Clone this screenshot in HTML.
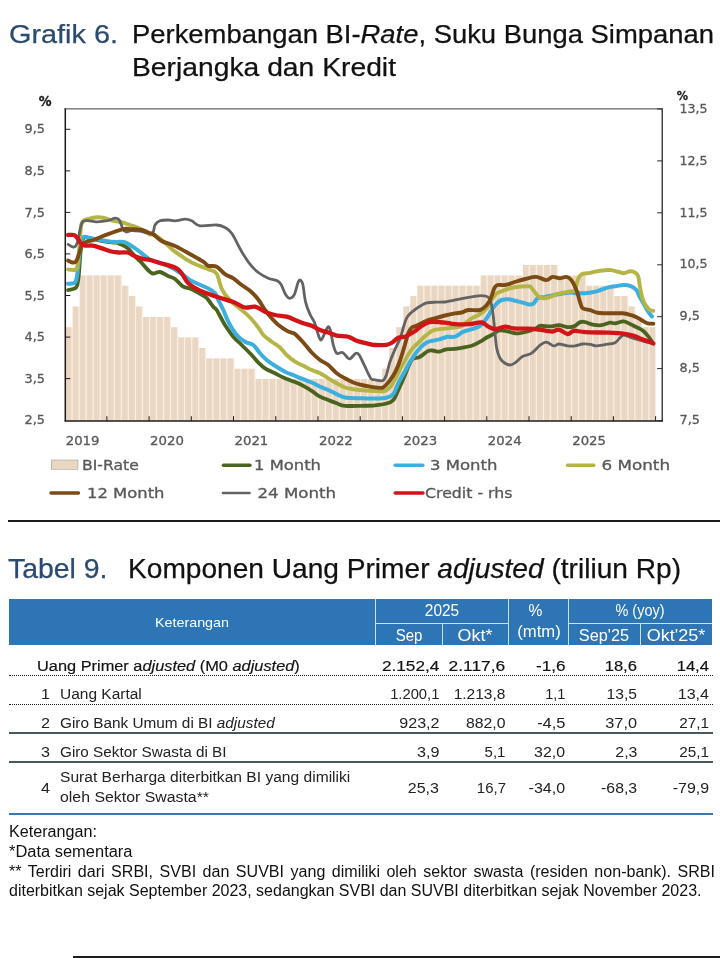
<!DOCTYPE html>
<html lang="id"><head><meta charset="utf-8"><title>Grafik 6 / Tabel 9</title>
<style>
html,body{margin:0;padding:0;background:#fff}
#page{position:relative;width:720px;height:958px;overflow:hidden;background:#fff;font-family:"Liberation Sans",sans-serif}
.chart{position:absolute;left:0;top:0}
.t{position:absolute;white-space:nowrap;transform-origin:0 0}
.t i{font-style:italic}
.b{-webkit-text-stroke:0.18px currentColor}
.h{-webkit-text-stroke:0.25px currentColor}
.hb,.vl,.hl,.dot,.sol,.bl,.rule{position:absolute}
.vl{width:1px;background:#cfe0f2}
.hl{height:1px;background:#cfe0f2}
.dot{left:8.5px;width:704px;height:0;border-top:1.5px dotted #1a1a1a}
.sol{left:8.5px;width:704px;height:1.5px;background:#4a5660}
.bl{left:8.5px;width:704px;height:1.6px;background:#3a78b0}
.rule{background:#1c1c1c}
</style></head><body>
<div id="page">
<svg class="chart" width="720" height="520" viewBox="0 0 720 520">
<path d="M65.70,420.6V327.2h7.035V420.6zM72.73,420.6V306.5h7.035V420.6zM79.77,420.6V275.4h7.035V420.6zM86.81,420.6V275.4h7.035V420.6zM93.84,420.6V275.4h7.035V420.6zM100.88,420.6V275.4h7.035V420.6zM107.91,420.6V275.4h7.035V420.6zM114.95,420.6V275.4h7.035V420.6zM121.98,420.6V285.7h7.035V420.6zM129.01,420.6V296.1h7.035V420.6zM136.05,420.6V306.5h7.035V420.6zM143.09,420.6V316.9h7.035V420.6zM150.12,420.6V316.9h7.035V420.6zM157.16,420.6V316.9h7.035V420.6zM164.19,420.6V316.9h7.035V420.6zM171.23,420.6V327.2h7.035V420.6zM178.26,420.6V337.6h7.035V420.6zM185.30,420.6V337.6h7.035V420.6zM192.33,420.6V337.6h7.035V420.6zM199.37,420.6V348.0h7.035V420.6zM206.40,420.6V358.4h7.035V420.6zM213.44,420.6V358.4h7.035V420.6zM220.47,420.6V358.4h7.035V420.6zM227.50,420.6V358.4h7.035V420.6zM234.54,420.6V368.7h7.035V420.6zM241.57,420.6V368.7h7.035V420.6zM248.61,420.6V368.7h7.035V420.6zM255.64,420.6V379.1h7.035V420.6zM262.68,420.6V379.1h7.035V420.6zM269.72,420.6V379.1h7.035V420.6zM276.75,420.6V379.1h7.035V420.6zM283.79,420.6V379.1h7.035V420.6zM290.82,420.6V379.1h7.035V420.6zM297.86,420.6V379.1h7.035V420.6zM304.89,420.6V379.1h7.035V420.6zM311.93,420.6V379.1h7.035V420.6zM318.96,420.6V379.1h7.035V420.6zM326.00,420.6V379.1h7.035V420.6zM333.03,420.6V379.1h7.035V420.6zM340.06,420.6V379.1h7.035V420.6zM347.10,420.6V379.1h7.035V420.6zM354.13,420.6V379.1h7.035V420.6zM361.17,420.6V379.1h7.035V420.6zM368.20,420.6V379.1h7.035V420.6zM375.24,420.6V379.1h7.035V420.6zM382.27,420.6V368.7h7.035V420.6zM389.31,420.6V348.0h7.035V420.6zM396.34,420.6V327.2h7.035V420.6zM403.38,420.6V306.5h7.035V420.6zM410.42,420.6V296.1h7.035V420.6zM417.45,420.6V285.7h7.035V420.6zM424.49,420.6V285.7h7.035V420.6zM431.52,420.6V285.7h7.035V420.6zM438.56,420.6V285.7h7.035V420.6zM445.59,420.6V285.7h7.035V420.6zM452.62,420.6V285.7h7.035V420.6zM459.66,420.6V285.7h7.035V420.6zM466.69,420.6V285.7h7.035V420.6zM473.73,420.6V285.7h7.035V420.6zM480.76,420.6V275.4h7.035V420.6zM487.80,420.6V275.4h7.035V420.6zM494.83,420.6V275.4h7.035V420.6zM501.87,420.6V275.4h7.035V420.6zM508.90,420.6V275.4h7.035V420.6zM515.94,420.6V275.4h7.035V420.6zM522.98,420.6V265.0h7.035V420.6zM530.01,420.6V265.0h7.035V420.6zM537.05,420.6V265.0h7.035V420.6zM544.08,420.6V265.0h7.035V420.6zM551.12,420.6V265.0h7.035V420.6zM558.15,420.6V275.4h7.035V420.6zM565.19,420.6V275.4h7.035V420.6zM572.22,420.6V275.4h7.035V420.6zM579.26,420.6V275.4h7.035V420.6zM586.29,420.6V285.7h7.035V420.6zM593.33,420.6V285.7h7.035V420.6zM600.36,420.6V285.7h7.035V420.6zM607.40,420.6V285.7h7.035V420.6zM614.43,420.6V296.1h7.035V420.6zM621.47,420.6V296.1h7.035V420.6zM628.50,420.6V306.5h7.035V420.6zM635.54,420.6V316.9h7.035V420.6zM642.57,420.6V327.2h7.035V420.6zM649.61,420.6V327.2h5.7V420.6z" fill="#FAEEDF"/>
<path d="M65.70,420.6V327.2h5.7V420.6zM72.73,420.6V306.5h5.7V420.6zM79.77,420.6V275.4h5.7V420.6zM86.81,420.6V275.4h5.7V420.6zM93.84,420.6V275.4h5.7V420.6zM100.88,420.6V275.4h5.7V420.6zM107.91,420.6V275.4h5.7V420.6zM114.95,420.6V275.4h5.7V420.6zM121.98,420.6V285.7h5.7V420.6zM129.01,420.6V296.1h5.7V420.6zM136.05,420.6V306.5h5.7V420.6zM143.09,420.6V316.9h5.7V420.6zM150.12,420.6V316.9h5.7V420.6zM157.16,420.6V316.9h5.7V420.6zM164.19,420.6V316.9h5.7V420.6zM171.23,420.6V327.2h5.7V420.6zM178.26,420.6V337.6h5.7V420.6zM185.30,420.6V337.6h5.7V420.6zM192.33,420.6V337.6h5.7V420.6zM199.37,420.6V348.0h5.7V420.6zM206.40,420.6V358.4h5.7V420.6zM213.44,420.6V358.4h5.7V420.6zM220.47,420.6V358.4h5.7V420.6zM227.50,420.6V358.4h5.7V420.6zM234.54,420.6V368.7h5.7V420.6zM241.57,420.6V368.7h5.7V420.6zM248.61,420.6V368.7h5.7V420.6zM255.64,420.6V379.1h5.7V420.6zM262.68,420.6V379.1h5.7V420.6zM269.72,420.6V379.1h5.7V420.6zM276.75,420.6V379.1h5.7V420.6zM283.79,420.6V379.1h5.7V420.6zM290.82,420.6V379.1h5.7V420.6zM297.86,420.6V379.1h5.7V420.6zM304.89,420.6V379.1h5.7V420.6zM311.93,420.6V379.1h5.7V420.6zM318.96,420.6V379.1h5.7V420.6zM326.00,420.6V379.1h5.7V420.6zM333.03,420.6V379.1h5.7V420.6zM340.06,420.6V379.1h5.7V420.6zM347.10,420.6V379.1h5.7V420.6zM354.13,420.6V379.1h5.7V420.6zM361.17,420.6V379.1h5.7V420.6zM368.20,420.6V379.1h5.7V420.6zM375.24,420.6V379.1h5.7V420.6zM382.27,420.6V368.7h5.7V420.6zM389.31,420.6V348.0h5.7V420.6zM396.34,420.6V327.2h5.7V420.6zM403.38,420.6V306.5h5.7V420.6zM410.42,420.6V296.1h5.7V420.6zM417.45,420.6V285.7h5.7V420.6zM424.49,420.6V285.7h5.7V420.6zM431.52,420.6V285.7h5.7V420.6zM438.56,420.6V285.7h5.7V420.6zM445.59,420.6V285.7h5.7V420.6zM452.62,420.6V285.7h5.7V420.6zM459.66,420.6V285.7h5.7V420.6zM466.69,420.6V285.7h5.7V420.6zM473.73,420.6V285.7h5.7V420.6zM480.76,420.6V275.4h5.7V420.6zM487.80,420.6V275.4h5.7V420.6zM494.83,420.6V275.4h5.7V420.6zM501.87,420.6V275.4h5.7V420.6zM508.90,420.6V275.4h5.7V420.6zM515.94,420.6V275.4h5.7V420.6zM522.98,420.6V265.0h5.7V420.6zM530.01,420.6V265.0h5.7V420.6zM537.05,420.6V265.0h5.7V420.6zM544.08,420.6V265.0h5.7V420.6zM551.12,420.6V265.0h5.7V420.6zM558.15,420.6V275.4h5.7V420.6zM565.19,420.6V275.4h5.7V420.6zM572.22,420.6V275.4h5.7V420.6zM579.26,420.6V275.4h5.7V420.6zM586.29,420.6V285.7h5.7V420.6zM593.33,420.6V285.7h5.7V420.6zM600.36,420.6V285.7h5.7V420.6zM607.40,420.6V285.7h5.7V420.6zM614.43,420.6V296.1h5.7V420.6zM621.47,420.6V296.1h5.7V420.6zM628.50,420.6V306.5h5.7V420.6zM635.54,420.6V316.9h5.7V420.6zM642.57,420.6V327.2h5.7V420.6zM649.61,420.6V327.2h5.7V420.6z" fill="#EAD7C3"/>
<path d="M68.1,290.0C69.0,289.8 72.3,289.4 73.8,288.8C75.2,288.1 76.1,288.5 76.9,286.2C77.7,284.0 78.2,280.2 78.8,275.0C79.3,269.8 79.8,260.7 80.3,255.0C80.8,249.3 81.2,243.9 82.0,241.0C82.8,238.1 83.7,237.7 85.0,237.3C86.3,236.9 87.9,238.0 90.0,238.4C92.1,238.8 94.6,239.4 97.5,240.0C100.4,240.6 104.4,241.5 107.5,241.9C110.6,242.3 113.9,242.2 116.0,242.6C118.1,242.9 118.1,243.1 120.0,244.0C121.9,244.9 125.0,246.0 127.5,248.0C130.0,250.0 132.5,253.6 135.0,256.2C137.5,258.9 140.3,261.5 142.5,263.8C144.7,266.0 146.2,268.4 148.0,270.0C149.8,271.6 151.0,273.2 153.0,273.5C155.0,273.8 157.5,271.6 160.0,272.0C162.5,272.4 165.5,274.8 168.0,276.0C170.5,277.2 172.4,277.2 175.0,279.0C177.6,280.8 180.5,285.0 183.3,286.7C186.1,288.4 188.1,287.5 191.7,289.2C195.3,290.9 202.2,294.9 205.0,296.7C207.8,298.5 206.9,298.3 208.3,300.0C209.7,301.7 211.9,305.0 213.3,306.7C214.7,308.4 215.6,308.4 216.7,310.0C217.8,311.6 218.6,313.5 220.0,316.0C221.4,318.5 222.8,321.6 225.0,325.0C227.2,328.4 230.5,333.4 233.3,336.7C236.1,340.0 238.9,342.2 241.7,345.0C244.5,347.8 247.2,350.4 250.0,353.3C252.8,356.2 255.8,360.0 258.3,362.5C260.8,365.0 262.2,366.5 265.0,368.3C267.8,370.1 271.7,371.6 275.0,373.3C278.3,375.0 281.7,376.9 285.0,378.3C288.3,379.8 291.9,380.8 295.0,382.0C298.1,383.2 300.5,384.3 303.3,385.8C306.1,387.3 308.9,389.0 311.7,390.8C314.5,392.6 317.2,395.2 320.0,396.7C322.8,398.2 325.5,398.9 328.3,400.0C331.1,401.1 333.9,402.3 336.7,403.3C339.5,404.3 340.8,405.4 345.0,405.8C349.2,406.2 356.7,405.9 361.7,405.8C366.7,405.7 370.9,405.7 375.0,405.3C379.1,404.9 383.4,404.4 386.5,403.5C389.6,402.6 391.5,402.0 393.4,399.9C395.3,397.8 396.3,394.3 398.0,390.7C399.7,387.1 401.8,382.5 403.7,378.1C405.6,373.7 407.9,367.6 409.4,364.3C410.9,361.1 411.4,359.8 412.9,358.6C414.4,357.5 416.9,358.1 418.6,357.4C420.3,356.7 421.7,355.6 423.2,354.5C424.7,353.4 426.3,351.8 427.8,351.1C429.3,350.4 430.5,350.4 432.4,350.5C434.3,350.6 437.2,351.8 439.3,351.7C441.4,351.6 443.5,350.0 445.0,349.6C446.5,349.2 446.1,349.4 448.3,349.2C450.5,349.0 454.4,348.9 458.3,348.3C462.2,347.7 468.1,346.9 471.7,345.8C475.3,344.7 477.5,343.1 480.0,341.7C482.5,340.3 484.5,338.8 486.7,337.5C488.9,336.2 491.4,335.3 493.3,334.2C495.2,333.1 496.4,331.4 498.3,330.8C500.2,330.2 502.8,330.5 505.0,330.8C507.2,331.1 509.5,332.1 511.7,332.5C513.9,332.9 515.7,333.5 518.3,333.3C520.9,333.1 524.5,332.3 527.5,331.5C530.5,330.7 534.2,329.2 536.3,328.3C538.4,327.4 537.8,326.1 540.1,325.8C542.4,325.5 547.0,326.5 550.1,326.4C553.2,326.3 556.0,325.1 558.9,325.2C561.8,325.3 565.1,326.9 567.6,327.1C570.1,327.3 571.8,327.2 573.9,326.4C576.0,325.6 578.3,322.8 580.2,322.1C582.1,321.4 583.1,321.7 585.2,322.1C587.3,322.5 590.0,324.1 592.7,324.6C595.4,325.1 598.4,325.5 601.3,325.2C604.2,324.9 607.7,323.0 610.0,322.7C612.3,322.4 612.7,323.5 615.0,323.3C617.3,323.1 621.1,321.2 623.8,321.4C626.5,321.6 628.8,323.5 631.3,324.6C633.8,325.8 636.8,327.2 638.9,328.3C641.0,329.4 642.2,330.0 643.9,331.5C645.6,333.0 647.4,335.2 648.9,337.1C650.4,339.0 652.0,341.8 652.6,342.7" fill="none" stroke="#4A6420" stroke-width="3.8" stroke-linecap="round" stroke-linejoin="round"/>
<path d="M68.1,283.8C69.0,283.6 72.4,283.7 73.8,283.1C75.1,282.5 75.5,282.6 76.2,280.0C77.0,277.4 77.5,272.7 78.1,267.5C78.7,262.3 79.4,253.5 80.0,248.8C80.6,244.0 81.1,240.7 81.9,238.8C82.7,236.8 83.7,236.9 85.0,236.8C86.3,236.7 87.9,237.5 90.0,237.9C92.1,238.3 94.6,238.8 97.5,239.4C100.4,240.0 104.4,240.8 107.5,241.2C110.6,241.7 113.5,241.8 116.2,241.9C119.0,242.0 121.5,241.4 123.8,241.9C126.0,242.4 127.7,243.7 130.0,245.0C132.3,246.3 135.0,248.2 137.5,250.0C140.0,251.8 142.9,254.4 145.0,256.0C147.1,257.6 147.8,258.4 150.0,259.5C152.2,260.6 155.3,261.6 158.0,262.5C160.7,263.4 163.2,263.6 166.0,264.8C168.8,266.0 171.8,267.6 175.0,269.5C178.2,271.4 182.2,274.6 185.0,276.5C187.8,278.4 187.8,279.0 191.7,281.0C195.6,283.0 204.4,286.5 208.3,288.5C212.2,290.5 213.3,291.1 215.0,293.0C216.7,294.9 216.9,297.2 218.3,300.0C219.7,302.8 221.6,306.4 223.3,310.0C225.0,313.6 226.1,317.5 228.3,321.7C230.5,325.9 233.9,331.7 236.7,335.0C239.5,338.3 242.2,340.0 245.0,341.7C247.8,343.4 250.8,343.1 253.3,345.0C255.8,346.9 257.8,350.8 260.0,353.3C262.2,355.8 264.2,357.9 266.7,360.0C269.2,362.1 271.9,363.9 275.0,365.8C278.1,367.8 281.7,370.0 285.0,371.7C288.3,373.4 291.9,374.6 295.0,375.8C298.1,377.1 300.5,378.1 303.3,379.2C306.1,380.3 308.9,381.2 311.7,382.5C314.5,383.8 317.2,385.4 320.0,386.7C322.8,387.9 325.5,388.8 328.3,390.0C331.1,391.2 333.9,392.9 336.7,394.2C339.5,395.4 340.8,396.8 345.0,397.5C349.2,398.2 356.7,398.1 361.7,398.3C366.7,398.5 370.9,398.6 375.0,398.5C379.1,398.4 383.4,398.5 386.5,397.8C389.6,397.1 391.5,396.4 393.4,394.1C395.3,391.8 396.3,387.2 398.0,383.8C399.7,380.4 401.8,376.9 403.7,373.5C405.6,370.1 407.5,366.4 409.4,363.1C411.3,359.9 413.3,356.7 415.2,354.0C417.1,351.3 419.0,349.0 420.9,347.1C422.8,345.2 424.8,343.6 426.7,342.5C428.6,341.4 430.3,341.3 432.4,340.8C434.5,340.3 437.2,339.9 439.3,339.4C441.4,338.8 443.8,337.9 445.0,337.5C446.2,337.1 445.0,336.8 446.7,336.7C448.4,336.6 452.2,337.5 455.0,336.7C457.8,335.9 460.5,332.9 463.3,331.7C466.1,330.4 468.9,330.2 471.7,329.2C474.5,328.2 477.5,327.6 480.0,325.8C482.5,324.0 484.8,320.9 486.7,318.3C488.6,315.7 490.0,312.5 491.7,310.0C493.4,307.5 495.0,305.0 496.7,303.3C498.4,301.6 499.8,300.7 501.7,300.0C503.6,299.3 506.1,299.1 508.3,299.2C510.5,299.3 512.6,300.2 515.0,300.8C517.4,301.4 520.2,302.0 522.5,302.6C524.8,303.2 526.9,304.4 528.8,304.5C530.7,304.6 532.3,304.4 533.8,303.3C535.3,302.2 535.7,299.2 537.6,298.2C539.5,297.1 541.8,297.6 545.0,297.0C548.2,296.4 552.8,295.2 557.0,294.5C561.2,293.8 567.0,292.7 570.0,292.5C573.0,292.3 572.7,293.1 575.2,293.2C577.7,293.3 581.7,293.5 585.2,293.2C588.8,292.9 592.8,292.3 596.5,291.4C600.2,290.5 604.4,288.5 607.5,287.6C610.6,286.8 612.3,286.7 615.0,286.3C617.7,285.9 621.1,285.1 623.8,285.1C626.5,285.1 629.2,285.5 631.3,286.3C633.4,287.1 634.9,288.2 636.4,290.1C637.9,292.0 638.6,294.9 640.1,297.6C641.6,300.3 643.6,303.9 645.1,306.4C646.6,308.9 647.8,311.0 648.9,312.7C650.0,314.4 651.5,315.8 652.0,316.4" fill="none" stroke="#3BAFDF" stroke-width="4.0" stroke-linecap="round" stroke-linejoin="round"/>
<path d="M68.1,269.4C69.0,269.5 72.3,270.2 73.8,270.0C75.2,269.8 76.1,270.6 76.9,268.1C77.7,265.6 78.1,261.4 78.8,255.0C79.4,248.7 80.0,235.5 80.6,230.0C81.2,224.5 81.1,223.8 82.5,221.9C83.9,220.0 86.2,219.5 88.8,218.8C91.2,218.0 94.8,217.4 97.5,217.2C100.2,217.1 102.5,217.5 105.0,218.1C107.5,218.7 109.6,219.9 112.5,220.6C115.4,221.3 119.6,221.8 122.5,222.5C125.4,223.2 127.5,224.2 130.0,225.0C132.5,225.8 135.0,226.5 137.5,227.5C140.0,228.5 142.9,230.1 145.0,231.2C147.1,232.4 148.3,233.8 150.0,234.4C151.7,235.0 151.9,233.1 155.0,235.0C158.1,236.9 165.0,243.0 168.3,245.8C171.6,248.6 171.1,248.9 175.0,251.7C178.9,254.5 186.1,259.6 191.7,262.5C197.2,265.4 204.2,267.4 208.3,269.2C212.4,271.0 214.4,270.5 216.5,273.5C218.6,276.5 219.5,283.4 221.0,287.0C222.5,290.6 223.4,292.3 225.5,295.0C227.6,297.7 230.6,300.8 233.3,303.3C236.0,305.8 238.9,307.6 241.7,310.0C244.5,312.4 247.2,314.6 250.0,317.5C252.8,320.4 256.1,324.6 258.3,327.5C260.5,330.4 261.1,332.6 263.3,335.0C265.5,337.4 268.9,339.6 271.7,341.7C274.5,343.8 277.5,345.3 280.0,347.5C282.5,349.7 284.2,352.6 286.7,355.0C289.2,357.4 292.2,359.9 295.0,361.7C297.8,363.5 300.5,364.4 303.3,365.8C306.1,367.2 308.9,368.8 311.7,370.0C314.5,371.2 317.2,371.9 320.0,373.3C322.8,374.7 325.5,376.6 328.3,378.3C331.1,380.0 333.9,381.8 336.7,383.3C339.5,384.8 342.2,386.5 345.0,387.5C347.8,388.5 349.1,388.6 353.3,389.2C357.5,389.8 366.4,390.5 370.0,390.8C373.6,391.1 372.6,391.0 375.0,391.0C377.4,391.0 381.7,391.6 384.2,391.0C386.7,390.4 388.2,389.1 389.9,387.3C391.6,385.5 392.8,383.5 394.5,380.4C396.2,377.3 398.4,372.5 400.3,368.9C402.2,365.3 404.1,361.9 406.0,358.6C407.9,355.4 409.6,352.1 411.7,349.4C413.8,346.7 416.5,344.6 418.6,342.5C420.7,340.4 422.5,338.4 424.4,336.7C426.3,335.0 428.4,333.2 430.1,332.1C431.8,331.0 432.2,330.5 434.7,329.9C437.2,329.3 443.0,328.8 445.0,328.5C447.0,328.2 444.2,328.6 446.7,328.3C449.2,328.0 456.9,327.5 460.0,326.7C463.1,325.9 463.1,324.7 465.0,323.3C466.9,321.9 469.2,319.8 471.7,318.3C474.2,316.8 477.5,315.9 480.0,314.2C482.5,312.5 484.8,310.7 486.7,308.3C488.6,305.9 490.0,302.5 491.7,300.0C493.4,297.5 494.5,295.0 496.7,293.3C498.9,291.6 502.2,291.0 505.0,290.0C507.8,289.0 509.5,288.1 513.3,287.5C517.0,286.9 524.5,286.3 527.5,286.3C530.5,286.3 529.6,286.0 531.3,287.6C533.0,289.2 535.7,293.9 537.6,295.7C539.5,297.5 540.7,297.9 542.6,298.2C544.5,298.5 546.3,298.3 548.8,297.6C551.3,296.9 554.0,294.9 557.6,293.9C561.2,292.9 567.2,292.0 570.1,291.4C573.0,290.8 573.9,292.0 575.2,290.1C576.5,288.2 576.7,282.7 577.7,280.1C578.7,277.5 579.3,275.6 581.4,274.4C583.5,273.2 587.1,273.4 590.2,272.8C593.3,272.2 596.7,271.2 600.0,270.7C603.3,270.2 606.9,269.8 610.0,270.0C613.1,270.2 616.5,271.4 618.8,271.9C621.1,272.4 621.9,273.3 623.8,273.2C625.7,273.1 628.2,271.4 630.1,271.3C632.0,271.2 633.8,271.8 635.1,272.6C636.5,273.4 637.4,273.8 638.2,276.3C639.0,278.8 639.4,283.8 640.1,287.6C640.8,291.4 641.6,295.8 642.6,298.9C643.6,302.0 645.1,304.5 646.4,306.4C647.6,308.3 649.0,309.4 650.1,310.1C651.2,310.8 652.8,310.7 653.3,310.8" fill="none" stroke="#B4B545" stroke-width="3.9" stroke-linecap="round" stroke-linejoin="round"/>
<path d="M68.1,244.4C68.8,244.8 71.2,246.6 72.5,246.9C73.8,247.2 74.7,247.4 75.6,246.2C76.5,245.1 77.4,242.7 78.1,240.0C78.8,237.3 79.3,233.0 80.0,230.0C80.7,227.0 81.2,223.5 82.5,221.9C83.8,220.3 85.2,220.6 87.5,220.6C89.8,220.6 93.5,221.8 96.2,221.9C99.0,222.0 101.5,221.6 103.8,221.2C106.0,220.9 108.1,220.5 110.0,220.0C111.9,219.5 113.5,218.2 115.0,218.1C116.5,218.0 117.7,218.3 118.8,219.4C119.8,220.5 120.5,222.7 121.2,224.4C122.0,226.1 122.3,228.2 123.1,229.4C123.9,230.7 124.9,231.7 126.2,231.9C127.6,232.1 129.0,230.7 131.2,230.6C133.5,230.5 137.7,230.9 140.0,231.2C142.3,231.6 143.3,232.2 145.0,232.5C146.7,232.8 148.6,233.1 150.0,233.0C151.4,232.9 152.5,233.0 153.3,231.7C154.1,230.4 153.9,226.8 155.0,225.0C156.1,223.2 157.8,221.6 160.0,220.8C162.2,220.0 165.8,220.0 168.3,220.0C170.8,220.0 172.2,220.9 175.0,220.8C177.8,220.7 182.2,219.2 185.0,219.2C187.8,219.2 189.2,219.7 191.7,220.8C194.2,221.9 195.8,225.1 200.0,225.8C204.2,226.5 212.5,224.7 216.7,225.0C220.9,225.3 222.5,226.1 225.0,227.5C227.5,228.9 228.9,229.3 231.7,233.3C234.5,237.3 238.6,246.5 241.7,251.7C244.8,256.8 247.2,260.7 250.0,264.2C252.8,267.7 255.2,270.1 258.3,272.5C261.4,274.9 265.2,276.9 268.3,278.3C271.4,279.7 274.6,279.6 276.7,280.6C278.8,281.6 279.6,282.1 281.1,284.4C282.6,286.7 284.1,292.1 285.6,294.4C287.1,296.7 288.5,298.3 290.0,298.3C291.5,298.3 293.1,296.9 294.4,294.4C295.7,291.9 296.9,285.7 297.8,283.3C298.7,280.9 299.2,279.8 300.0,280.0C300.8,280.2 301.9,280.7 302.8,284.4C303.7,288.1 304.4,297.2 305.6,302.2C306.8,307.2 308.5,311.1 310.0,314.4C311.5,317.7 313.1,319.0 314.4,322.2C315.7,325.4 316.7,330.3 317.8,333.3C318.9,336.3 319.8,340.4 321.1,340.0C322.4,339.6 324.4,333.3 325.6,331.1C326.8,328.9 327.5,326.7 328.3,326.7C329.1,326.7 329.8,328.1 330.6,331.1C331.4,334.2 332.3,341.3 333.3,345.0C334.3,348.7 335.2,352.1 336.7,353.3C338.2,354.6 340.6,351.7 342.5,352.5C344.4,353.3 346.9,357.3 348.3,358.3C349.7,359.3 349.6,359.1 350.8,358.3C352.1,357.5 354.4,353.9 355.8,353.3C357.2,352.8 357.7,352.8 359.2,355.0C360.7,357.2 363.1,362.8 365.0,366.7C366.9,370.6 369.1,376.1 370.8,378.3C372.5,380.5 373.0,379.4 375.0,379.8C377.0,380.2 381.1,381.5 383.0,380.6C384.9,379.7 385.4,377.7 386.5,374.6C387.6,371.5 388.6,366.0 389.9,362.0C391.2,358.0 392.8,354.5 394.5,350.5C396.2,346.5 398.8,341.9 400.3,337.9C401.8,333.9 402.6,329.8 403.7,326.4C404.8,322.9 405.4,319.9 407.1,317.2C408.8,314.5 411.7,312.2 414.0,310.3C416.3,308.4 418.8,306.9 420.9,305.7C423.0,304.5 424.2,303.5 426.7,302.9C429.2,302.3 432.9,302.3 436.0,302.2C439.1,302.1 443.2,302.1 445.0,302.0C446.8,301.9 443.6,302.3 446.7,301.7C449.8,301.1 458.6,299.2 463.3,298.3C468.0,297.4 471.7,296.7 475.0,296.3C478.3,295.9 480.9,295.5 483.3,295.8C485.7,296.1 487.7,295.9 489.2,298.3C490.7,300.7 491.5,304.2 492.5,310.0C493.5,315.8 494.3,326.9 495.0,333.3C495.7,339.7 495.9,344.1 496.7,348.3C497.5,352.5 498.6,355.8 500.0,358.3C501.4,360.8 503.3,362.2 505.0,363.3C506.7,364.4 508.3,365.1 510.0,365.0C511.7,364.9 512.9,364.2 515.0,362.8C517.1,361.4 519.8,358.1 522.5,356.5C525.2,354.9 528.4,355.3 531.3,353.4C534.2,351.5 537.6,347.1 540.1,345.2C542.6,343.3 544.0,342.0 546.3,342.1C548.6,342.2 551.7,345.6 553.8,345.9C555.9,346.2 556.6,344.0 558.9,344.0C561.2,344.0 564.9,345.6 567.6,345.9C570.3,346.2 572.7,346.2 575.2,345.9C577.7,345.6 580.2,344.3 582.7,344.0C585.2,343.7 587.9,344.0 590.2,344.3C592.5,344.6 593.8,345.8 596.3,345.9C598.8,345.9 601.9,345.1 605.0,344.6C608.1,344.1 612.5,343.9 615.0,342.7C617.5,341.5 618.6,338.9 620.1,337.7C621.6,336.4 621.9,335.2 623.8,335.2C625.7,335.2 628.6,336.9 631.3,337.7C634.0,338.5 637.6,339.5 640.1,340.2C642.6,340.9 644.3,341.6 646.4,342.1C648.5,342.6 651.6,343.2 652.6,343.4" fill="none" stroke="#636363" stroke-width="2.8" stroke-linecap="round" stroke-linejoin="round"/>
<path d="M68.1,260.6C68.8,260.9 71.1,262.4 72.5,262.5C73.9,262.6 75.1,262.9 76.2,261.2C77.4,259.6 78.5,255.2 79.4,252.5C80.3,249.8 80.8,246.8 81.9,245.0C83.0,243.2 84.3,242.7 86.2,241.9C88.2,241.1 91.0,240.9 93.8,240.0C96.5,239.1 99.4,237.5 102.5,236.2C105.6,235.0 109.8,233.5 112.5,232.5C115.2,231.5 117.1,230.9 118.8,230.4C120.4,229.9 121.3,229.6 122.5,229.3C123.7,229.0 124.8,228.8 126.0,228.8C127.2,228.8 127.7,228.9 130.0,229.1C132.3,229.3 137.3,229.3 140.0,229.8C142.7,230.2 144.6,231.0 146.2,231.6C147.9,232.2 148.8,233.1 150.0,233.5C151.2,233.9 151.4,233.1 153.3,234.3C155.2,235.6 158.1,239.1 161.7,241.0C165.3,242.9 170.0,243.7 175.0,246.0C180.0,248.3 187.0,252.4 191.7,255.0C196.4,257.6 200.5,259.9 203.3,261.7C206.1,263.5 206.1,265.0 208.3,265.8C210.5,266.6 213.9,265.3 216.7,266.7C219.5,268.1 222.2,272.3 225.0,274.2C227.8,276.1 230.5,276.5 233.3,278.3C236.1,280.1 238.9,282.9 241.7,285.0C244.5,287.1 247.2,288.4 250.0,290.8C252.8,293.2 255.8,296.3 258.3,299.5C260.8,302.7 262.8,306.9 265.0,310.0C267.2,313.1 269.6,315.9 271.7,318.3C273.8,320.7 275.3,322.3 277.8,324.4C280.3,326.4 284.1,329.1 286.7,330.6C289.3,332.1 291.9,332.7 293.3,333.3C294.7,333.9 293.3,332.5 295.0,334.0C296.7,335.5 300.5,339.4 303.3,342.5C306.1,345.6 308.9,349.6 311.7,352.5C314.5,355.4 317.2,357.9 320.0,360.0C322.8,362.1 325.5,362.8 328.3,365.0C331.1,367.2 333.9,371.1 336.7,373.3C339.5,375.5 342.2,376.8 345.0,378.3C347.8,379.8 350.5,381.4 353.3,382.5C356.1,383.6 358.9,384.3 361.7,385.0C364.5,385.7 367.8,386.3 370.0,386.7C372.2,387.1 372.8,387.3 375.0,387.4C377.2,387.5 380.5,388.6 383.0,387.4C385.5,386.2 387.8,383.1 389.9,380.4C392.0,377.7 394.0,374.6 395.7,371.2C397.4,367.8 398.8,364.1 400.3,359.7C401.8,355.3 403.6,349.2 404.9,344.8C406.2,340.4 407.2,336.2 408.3,333.3C409.4,330.4 410.4,328.9 411.7,327.6C413.0,326.4 414.8,326.5 416.3,325.8C417.8,325.1 419.2,324.4 420.9,323.5C422.6,322.6 424.4,321.6 426.7,320.7C429.0,319.8 431.6,319.3 434.7,318.4C437.8,317.5 441.6,316.4 445.0,315.5C448.4,314.6 452.2,313.8 455.0,313.3C457.8,312.8 459.5,313.1 461.7,312.5C463.9,311.9 465.2,310.4 468.3,310.0C471.4,309.6 476.9,310.8 480.0,310.0C483.1,309.2 484.9,306.9 486.7,305.0C488.5,303.1 489.6,301.1 490.8,298.3C492.1,295.5 493.1,290.5 494.2,288.3C495.3,286.1 495.7,285.6 497.5,285.0C499.3,284.4 502.4,285.4 505.0,285.0C507.6,284.6 510.0,283.5 513.3,282.5C516.6,281.5 521.2,279.9 525.0,279.0C528.8,278.1 532.8,276.7 536.3,276.9C539.8,277.1 543.6,280.1 546.3,280.1C549.0,280.1 550.3,277.2 552.6,276.9C554.9,276.6 557.8,278.2 560.1,278.2C562.4,278.2 564.5,276.6 566.4,276.9C568.3,277.2 569.7,277.9 571.4,280.1C573.1,282.3 574.9,286.4 576.4,290.1C577.9,293.9 579.2,299.6 580.2,302.6C581.2,305.6 581.0,307.0 582.7,308.3C584.4,309.6 587.7,309.5 590.2,310.2C592.7,310.9 594.6,312.2 597.7,312.7C600.8,313.2 604.6,313.2 608.8,313.3C612.9,313.4 618.9,313.0 622.6,313.3C626.4,313.6 628.8,314.5 631.3,315.2C633.8,315.9 635.7,316.8 637.6,317.7C639.5,318.6 640.9,319.9 642.6,320.8C644.3,321.7 645.8,322.8 647.6,323.3C649.4,323.8 652.3,323.6 653.3,323.7" fill="none" stroke="#7C4A14" stroke-width="3.9" stroke-linecap="round" stroke-linejoin="round"/>
<path d="M68.1,235.0C69.0,235.0 72.2,234.5 73.8,235.0C75.3,235.5 76.4,236.8 77.5,238.1C78.6,239.4 79.3,241.8 80.6,243.1C81.8,244.3 83.0,245.2 85.0,245.6C87.0,246.0 89.8,245.2 92.5,245.6C95.2,246.0 98.3,247.2 101.2,248.1C104.2,249.0 107.1,250.5 110.0,251.2C112.9,252.0 115.8,252.3 118.8,252.5C121.7,252.7 124.8,251.9 127.5,252.5C130.2,253.1 132.5,255.2 135.0,256.2C137.5,257.3 140.0,258.1 142.5,258.8C145.0,259.4 147.1,259.3 150.0,260.0C152.9,260.7 155.8,261.8 160.0,263.0C164.2,264.2 171.4,265.8 175.0,267.5C178.6,269.2 179.5,270.7 181.7,273.3C183.9,275.9 185.2,280.4 188.3,283.3C191.4,286.2 195.3,288.6 200.0,290.8C204.7,293.0 211.1,294.8 216.7,296.7C222.2,298.6 228.6,300.2 233.3,302.0C238.0,303.8 241.4,306.7 245.0,307.5C248.6,308.3 251.7,306.0 255.0,306.7C258.3,307.4 261.7,310.3 265.0,311.7C268.3,313.1 271.4,314.2 275.0,315.0C278.6,315.8 283.4,315.9 286.7,316.7C290.0,317.5 292.2,318.9 295.0,320.0C297.8,321.1 300.5,322.3 303.3,323.3C306.1,324.3 308.9,324.7 311.7,325.8C314.5,326.9 317.2,328.9 320.0,330.0C322.8,331.1 325.5,331.6 328.3,332.5C331.1,333.4 333.4,334.9 336.7,335.6C340.0,336.3 345.0,335.8 348.3,336.7C351.6,337.6 353.1,339.6 356.7,340.8C360.3,342.1 366.9,343.5 370.0,344.2C373.1,344.9 372.2,344.9 375.0,345.0C377.8,345.1 383.6,345.2 386.5,344.8C389.4,344.4 390.3,343.6 392.2,342.5C394.1,341.4 395.9,338.9 398.0,337.9C400.1,336.9 403.0,337.3 404.9,336.7C406.8,336.1 407.7,335.3 409.4,334.4C411.1,333.4 413.3,332.3 415.2,331.0C417.1,329.7 419.0,327.7 420.9,326.4C422.8,325.1 424.8,323.8 426.7,323.0C428.6,322.2 430.3,321.9 432.4,321.8C434.5,321.7 437.2,322.1 439.3,322.2C441.4,322.3 442.4,322.3 445.0,322.6C447.6,322.9 451.1,323.9 455.0,324.2C458.9,324.5 463.9,324.5 468.3,324.2C472.8,323.9 478.4,322.1 481.7,322.5C485.0,322.9 486.1,325.6 488.3,326.7C490.5,327.8 492.2,329.2 495.0,329.2C497.8,329.2 501.9,326.8 505.0,326.7C508.1,326.6 510.0,328.0 513.3,328.3C516.6,328.6 521.6,328.5 525.0,328.6C528.4,328.7 530.2,328.5 533.8,328.9C537.3,329.3 543.2,330.4 546.3,330.8C549.4,331.2 550.5,331.7 552.6,331.5C554.7,331.3 556.4,329.2 558.9,329.6C561.4,330.0 565.1,333.8 567.6,334.0C570.1,334.2 571.0,331.1 573.9,330.8C576.8,330.5 579.4,331.8 585.2,332.1C591.0,332.4 602.8,332.5 608.8,332.7C614.8,332.9 617.1,332.8 621.3,333.3C625.5,333.8 630.3,334.8 633.9,335.8C637.5,336.9 640.1,338.7 642.6,339.6C645.1,340.6 647.1,340.9 648.9,341.5C650.7,342.1 652.6,343.1 653.3,343.4" fill="none" stroke="#D31318" stroke-width="4.3" stroke-linecap="round" stroke-linejoin="round"/>
<path d="M65.3,108.3V421.2" stroke="#1a1a1a" stroke-width="1.5" fill="none"/>
<path d="M64.6,421H662.8" stroke="#1a1a1a" stroke-width="1.4" fill="none"/>
<path d="M64.6,108.9H662.6" stroke="#3a3a3a" stroke-width="1" fill="none"/>
<path d="M662.2,108.4V421.3" stroke="#151515" stroke-width="1.2" fill="none"/>
<path d="M65.3,129.3h5M65.3,170.9h5M65.3,212.4h5M65.3,253.9h5M65.3,295.5h5M65.3,337.1h5M65.3,378.6h5" stroke="#1a1a1a" stroke-width="1" fill="none"/>
<path d="M662.1,108.9h-5M662.1,160.9h-5M662.1,212.8h-5M662.1,264.8h-5M662.1,316.7h-5M662.1,368.6h-5M662.1,420.6h-5" stroke="#2a2a2a" stroke-width="1" fill="none"/>
<path d="M106.9,421v-4.8M149.1,421v-4.8M191.3,421v-4.8M233.5,421v-4.8M275.8,421v-4.8M318.0,421v-4.8M360.2,421v-4.8M402.4,421v-4.8M444.6,421v-4.8M486.8,421v-4.8M529.0,421v-4.8M571.2,421v-4.8M613.4,421v-4.8M655.6,421v-4.8" stroke="#1a1a1a" stroke-width="1" fill="none"/>
<g font-family='"DejaVu Sans", "Liberation Sans", sans-serif' stroke="#595959" stroke-width="0.3">
<text x="24.5" y="133.4" font-size="11.9" text-anchor="start" fill="#595959" font-weight="normal" textLength="20.4" lengthAdjust="spacingAndGlyphs">9,5</text>
<text x="24.5" y="175.0" font-size="11.9" text-anchor="start" fill="#595959" font-weight="normal" textLength="20.4" lengthAdjust="spacingAndGlyphs">8,5</text>
<text x="24.5" y="216.5" font-size="11.9" text-anchor="start" fill="#595959" font-weight="normal" textLength="20.4" lengthAdjust="spacingAndGlyphs">7,5</text>
<text x="24.5" y="258.1" font-size="11.9" text-anchor="start" fill="#595959" font-weight="normal" textLength="20.4" lengthAdjust="spacingAndGlyphs">6,5</text>
<text x="24.5" y="299.6" font-size="11.9" text-anchor="start" fill="#595959" font-weight="normal" textLength="20.4" lengthAdjust="spacingAndGlyphs">5,5</text>
<text x="24.5" y="341.2" font-size="11.9" text-anchor="start" fill="#595959" font-weight="normal" textLength="20.4" lengthAdjust="spacingAndGlyphs">4,5</text>
<text x="24.5" y="382.7" font-size="11.9" text-anchor="start" fill="#595959" font-weight="normal" textLength="20.4" lengthAdjust="spacingAndGlyphs">3,5</text>
<text x="24.5" y="424.2" font-size="11.9" text-anchor="start" fill="#595959" font-weight="normal" textLength="20.4" lengthAdjust="spacingAndGlyphs">2,5</text>
<text x="679.6" y="112.6" font-size="11.9" text-anchor="start" fill="#595959" font-weight="normal" textLength="28" lengthAdjust="spacingAndGlyphs">13,5</text>
<text x="679.6" y="164.6" font-size="11.9" text-anchor="start" fill="#595959" font-weight="normal" textLength="28" lengthAdjust="spacingAndGlyphs">12,5</text>
<text x="679.6" y="216.5" font-size="11.9" text-anchor="start" fill="#595959" font-weight="normal" textLength="28" lengthAdjust="spacingAndGlyphs">11,5</text>
<text x="679.6" y="268.4" font-size="11.9" text-anchor="start" fill="#595959" font-weight="normal" textLength="28" lengthAdjust="spacingAndGlyphs">10,5</text>
<text x="679.6" y="320.4" font-size="11.9" text-anchor="start" fill="#595959" font-weight="normal" textLength="20.4" lengthAdjust="spacingAndGlyphs">9,5</text>
<text x="679.6" y="372.3" font-size="11.9" text-anchor="start" fill="#595959" font-weight="normal" textLength="20.4" lengthAdjust="spacingAndGlyphs">8,5</text>
<text x="679.6" y="424.3" font-size="11.9" text-anchor="start" fill="#595959" font-weight="normal" textLength="20.4" lengthAdjust="spacingAndGlyphs">7,5</text>
<text x="65.7" y="444.5" font-size="11.8" text-anchor="start" fill="#595959" font-weight="normal" textLength="33.8" lengthAdjust="spacingAndGlyphs">2019</text>
<text x="150.1" y="444.5" font-size="11.8" text-anchor="start" fill="#595959" font-weight="normal" textLength="33.8" lengthAdjust="spacingAndGlyphs">2020</text>
<text x="234.5" y="444.5" font-size="11.8" text-anchor="start" fill="#595959" font-weight="normal" textLength="33.8" lengthAdjust="spacingAndGlyphs">2021</text>
<text x="319.0" y="444.5" font-size="11.8" text-anchor="start" fill="#595959" font-weight="normal" textLength="33.8" lengthAdjust="spacingAndGlyphs">2022</text>
<text x="403.4" y="444.5" font-size="11.8" text-anchor="start" fill="#595959" font-weight="normal" textLength="33.8" lengthAdjust="spacingAndGlyphs">2023</text>
<text x="487.8" y="444.5" font-size="11.8" text-anchor="start" fill="#595959" font-weight="normal" textLength="33.8" lengthAdjust="spacingAndGlyphs">2024</text>
<text x="572.2" y="444.5" font-size="11.8" text-anchor="start" fill="#595959" font-weight="normal" textLength="33.8" lengthAdjust="spacingAndGlyphs">2025</text>
<text x="38.7" y="106.2" font-size="14.2" text-anchor="start" fill="#1a1a1a" stroke="#1a1a1a" font-weight="bold" textLength="12.8" lengthAdjust="spacingAndGlyphs">%</text>
<text x="676.8" y="99.6" font-size="12.3" text-anchor="start" fill="#1a1a1a" stroke="#1a1a1a" font-weight="bold" textLength="11.3" lengthAdjust="spacingAndGlyphs">%</text>
<rect x="51.2" y="460" width="26.8" height="9.3" fill="#EAD7C3"/>
<path d="M223.4,465.3H250" stroke="#4A6420" stroke-width="3.4" stroke-linecap="round" fill="none"/>
<path d="M395.2,465.3H422.8" stroke="#3BAFDF" stroke-width="3.4" stroke-linecap="round" fill="none"/>
<path d="M567.5,465.3H593.8" stroke="#B4B545" stroke-width="3.4" stroke-linecap="round" fill="none"/>
<path d="M51,493H78.5" stroke="#7C4A14" stroke-width="3.4" stroke-linecap="round" fill="none"/>
<path d="M223,493H249.5" stroke="#636363" stroke-width="2.7" stroke-linecap="round" fill="none"/>
<path d="M395.2,493H423" stroke="#D31318" stroke-width="3.4" stroke-linecap="round" fill="none"/>
<text x="82" y="469.5" font-size="13.6" text-anchor="start" fill="#595959" font-weight="normal" textLength="56.8" lengthAdjust="spacingAndGlyphs">BI-Rate</text>
<text x="254" y="469.5" font-size="13.6" text-anchor="start" fill="#595959" font-weight="normal" textLength="67" lengthAdjust="spacingAndGlyphs">1 Month</text>
<text x="430" y="469.5" font-size="13.6" text-anchor="start" fill="#595959" font-weight="normal" textLength="67.5" lengthAdjust="spacingAndGlyphs">3 Month</text>
<text x="601.5" y="469.5" font-size="13.6" text-anchor="start" fill="#595959" font-weight="normal" textLength="68.5" lengthAdjust="spacingAndGlyphs">6 Month</text>
<text x="87" y="497.5" font-size="13.6" text-anchor="start" fill="#595959" font-weight="normal" textLength="77.5" lengthAdjust="spacingAndGlyphs">12 Month</text>
<text x="257.5" y="497.5" font-size="13.6" text-anchor="start" fill="#595959" font-weight="normal" textLength="78.5" lengthAdjust="spacingAndGlyphs">24 Month</text>
<text x="425" y="497.5" font-size="13.6" text-anchor="start" fill="#595959" font-weight="normal" textLength="87.5" lengthAdjust="spacingAndGlyphs">Credit - rhs</text>
</g></svg>
<div class="rule" style="left:8px;top:520.2px;width:712px;height:1.8px"></div>
<div class="hb" style="left:9.2px;top:598.7px;width:702.8px;height:46.6px;background:#2E75B6"></div>
<div class="vl" style="left:375px;top:598.7px;height:46.3px"></div>
<div class="vl" style="left:508.2px;top:598.7px;height:46.3px"></div>
<div class="vl" style="left:568.2px;top:598.7px;height:46.3px"></div>
<div class="vl" style="left:441.5px;top:623.7px;height:21.3px"></div>
<div class="vl" style="left:640px;top:623.7px;height:21.3px"></div>
<div class="hl" style="left:375px;top:623.2px;width:133.7px"></div>
<div class="hl" style="left:568.2px;top:623.2px;width:143.8px"></div>
<div class="dot" style="top:674.8px"></div>
<div class="dot" style="top:703.6px"></div>
<div class="sol" style="top:732.2px"></div>
<div class="sol" style="top:761px"></div>
<div class="bl" style="top:813px"></div>
<div class="t h" style="left:8.8px;top:21.02px;font-size:26.2px;line-height:26.2px;color:#2B4A6E;transform:scaleX(1.1014);">Grafik 6.</div>
<div class="t h" style="left:132.3px;top:21.02px;font-size:26.2px;line-height:26.2px;color:#111;transform:scaleX(1.0465);">Perkembangan BI-<i>Rate</i>, Suku Bunga Simpanan</div>
<div class="t h" style="left:132.3px;top:53.62px;font-size:26.2px;line-height:26.2px;color:#111;transform:scaleX(1.0794);">Berjangka dan Kredit</div>
<div class="t h" style="left:7.8px;top:554.91px;font-size:27.4px;line-height:27.4px;color:#2B4A6E;transform:scaleX(1.0371);">Tabel 9.</div>
<div class="t h" style="left:128px;top:554.91px;font-size:27.4px;line-height:27.4px;color:#111;transform:scaleX(1.0261);">Komponen Uang Primer <i>adjusted</i> (triliun Rp)</div>
<div class="t" style="left:8.6px;top:823.63px;font-size:15.8px;line-height:15.8px;color:#111;transform:scaleX(1.0223);">Keterangan:</div>
<div class="t" style="left:8.6px;top:843.63px;font-size:15.8px;line-height:15.8px;color:#111;transform:scaleX(1.0418);">*Data sementara</div>
<div class="t" style="left:8.6px;top:863.83px;font-size:15.8px;line-height:15.8px;color:#111;transform:scaleX(1.0159);word-spacing:2px;">** Terdiri dari SRBI, SVBI dan SUVBI yang dimiliki oleh sektor swasta (residen non-bank). SRBI</div>
<div class="t" style="left:8.6px;top:883.23px;font-size:15.8px;line-height:15.8px;color:#111;transform:scaleX(1.0123);">diterbitkan sejak September 2023, sedangkan SVBI dan SUVBI diterbitkan sejak November 2023.</div>
<div class="t" style="left:42.30px;width:300px;text-align:center;transform-origin:50% 0;top:615.69px;font-size:13.6px;line-height:13.6px;color:#fff;transform:scaleX(1.0527);">Keterangan</div>
<div class="t" style="left:292.00px;width:300px;text-align:center;transform-origin:50% 0;top:603.19px;font-size:15.6px;line-height:15.6px;color:#fff;transform:scaleX(0.9884);">2025</div>
<div class="t" style="left:258.60px;width:300px;text-align:center;transform-origin:50% 0;top:627.69px;font-size:15.6px;line-height:15.6px;color:#fff;transform:scaleX(0.9622);">Sep</div>
<div class="t" style="left:324.60px;width:300px;text-align:center;transform-origin:50% 0;top:627.69px;font-size:15.6px;line-height:15.6px;color:#fff;transform:scaleX(1.1474);">Okt*</div>
<div class="t" style="left:385.50px;width:300px;text-align:center;transform-origin:50% 0;top:603.39px;font-size:15.6px;line-height:15.6px;color:#fff;">%</div>
<div class="t" style="left:388.80px;width:300px;text-align:center;transform-origin:50% 0;top:624.39px;font-size:15.6px;line-height:15.6px;color:#fff;transform:scaleX(1.0687);">(mtm)</div>
<div class="t" style="left:490.30px;width:300px;text-align:center;transform-origin:50% 0;top:603.19px;font-size:15.6px;line-height:15.6px;color:#fff;transform:scaleX(0.9270);">% (yoy)</div>
<div class="t" style="left:454.20px;width:300px;text-align:center;transform-origin:50% 0;top:627.69px;font-size:15.6px;line-height:15.6px;color:#fff;transform:scaleX(1.0462);">Sep&#39;25</div>
<div class="t" style="left:526.30px;width:300px;text-align:center;transform-origin:50% 0;top:627.69px;font-size:15.6px;line-height:15.6px;color:#fff;transform:scaleX(1.1548);">Okt&#39;25*</div>
<div class="t b" style="left:36.5px;top:657.96px;font-size:15.4px;line-height:15.4px;color:#111;transform:scaleX(1.0628);">Uang Primer a<i>djusted</i> (M0 <i>adjusted</i>)</div>
<div class="t b" style="right:280.70px;transform-origin:100% 0;top:657.96px;font-size:15.4px;line-height:15.4px;color:#111;transform:scaleX(1.1186);">2.152,4</div>
<div class="t b" style="right:214.50px;transform-origin:100% 0;top:657.96px;font-size:15.4px;line-height:15.4px;color:#111;transform:scaleX(1.1291);">2.117,6</div>
<div class="t b" style="right:154.70px;transform-origin:100% 0;top:657.96px;font-size:15.4px;line-height:15.4px;color:#111;transform:scaleX(1.1119);">-1,6</div>
<div class="t b" style="right:82.70px;transform-origin:100% 0;top:657.96px;font-size:15.4px;line-height:15.4px;color:#111;transform:scaleX(1.0778);">18,6</div>
<div class="t b" style="right:10.70px;transform-origin:100% 0;top:657.96px;font-size:15.4px;line-height:15.4px;color:#111;transform:scaleX(1.0778);">14,4</div>
<div class="t" style="left:40.5px;top:686.26px;font-size:15.4px;line-height:15.4px;color:#222;transform:scaleX(1.0500);">1</div>
<div class="t" style="left:60.2px;top:686.26px;font-size:15.4px;line-height:15.4px;color:#222;transform:scaleX(1.0064);">Uang Kartal</div>
<div class="t" style="right:280.70px;transform-origin:100% 0;top:686.26px;font-size:15.4px;line-height:15.4px;color:#222;transform:scaleX(0.9580);">1.200,1</div>
<div class="t" style="right:214.50px;transform-origin:100% 0;top:686.26px;font-size:15.4px;line-height:15.4px;color:#222;transform:scaleX(1.0066);">1.213,8</div>
<div class="t" style="right:154.70px;transform-origin:100% 0;top:686.26px;font-size:15.4px;line-height:15.4px;color:#222;transform:scaleX(0.9390);">1,1</div>
<div class="t" style="right:82.70px;transform-origin:100% 0;top:686.26px;font-size:15.4px;line-height:15.4px;color:#222;transform:scaleX(1.0144);">13,5</div>
<div class="t" style="right:10.70px;transform-origin:100% 0;top:686.26px;font-size:15.4px;line-height:15.4px;color:#222;transform:scaleX(1.0411);">13,4</div>
<div class="t" style="left:40.5px;top:715.26px;font-size:15.4px;line-height:15.4px;color:#222;transform:scaleX(1.0500);">2</div>
<div class="t" style="left:60.2px;top:715.26px;font-size:15.4px;line-height:15.4px;color:#222;transform:scaleX(0.9964);">Giro Bank Umum di BI <i>adjusted</i></div>
<div class="t" style="right:280.70px;transform-origin:100% 0;top:715.26px;font-size:15.4px;line-height:15.4px;color:#222;transform:scaleX(1.0437);">923,2</div>
<div class="t" style="right:214.50px;transform-origin:100% 0;top:715.26px;font-size:15.4px;line-height:15.4px;color:#222;transform:scaleX(1.0256);">882,0</div>
<div class="t" style="right:154.70px;transform-origin:100% 0;top:715.26px;font-size:15.4px;line-height:15.4px;color:#222;transform:scaleX(1.0704);">-4,5</div>
<div class="t" style="right:82.70px;transform-origin:100% 0;top:715.26px;font-size:15.4px;line-height:15.4px;color:#222;transform:scaleX(1.0578);">37,0</div>
<div class="t" style="right:10.70px;transform-origin:100% 0;top:715.26px;font-size:15.4px;line-height:15.4px;color:#222;transform:scaleX(0.9944);">27,1</div>
<div class="t" style="left:40.5px;top:743.96px;font-size:15.4px;line-height:15.4px;color:#222;transform:scaleX(1.0500);">3</div>
<div class="t" style="left:60.2px;top:743.96px;font-size:15.4px;line-height:15.4px;color:#222;transform:scaleX(0.9931);">Giro Sektor Swasta di BI</div>
<div class="t" style="right:280.70px;transform-origin:100% 0;top:743.96px;font-size:15.4px;line-height:15.4px;color:#222;transform:scaleX(1.0488);">3,9</div>
<div class="t" style="right:214.50px;transform-origin:100% 0;top:743.96px;font-size:15.4px;line-height:15.4px;color:#222;transform:scaleX(0.9717);">5,1</div>
<div class="t" style="right:154.70px;transform-origin:100% 0;top:743.96px;font-size:15.4px;line-height:15.4px;color:#222;transform:scaleX(1.0311);">32,0</div>
<div class="t" style="right:82.70px;transform-origin:100% 0;top:743.96px;font-size:15.4px;line-height:15.4px;color:#222;transform:scaleX(1.0324);">2,3</div>
<div class="t" style="right:10.70px;transform-origin:100% 0;top:743.96px;font-size:15.4px;line-height:15.4px;color:#222;transform:scaleX(0.9944);">25,1</div>
<div class="t" style="left:40.5px;top:780.26px;font-size:15.4px;line-height:15.4px;color:#222;transform:scaleX(1.0500);">4</div>
<div class="t" style="right:280.70px;transform-origin:100% 0;top:780.26px;font-size:15.4px;line-height:15.4px;color:#222;transform:scaleX(1.0411);">25,3</div>
<div class="t" style="right:214.50px;transform-origin:100% 0;top:780.26px;font-size:15.4px;line-height:15.4px;color:#222;transform:scaleX(0.9710);">16,7</div>
<div class="t" style="right:154.70px;transform-origin:100% 0;top:780.26px;font-size:15.4px;line-height:15.4px;color:#222;transform:scaleX(1.0401);">-34,0</div>
<div class="t" style="right:82.70px;transform-origin:100% 0;top:780.26px;font-size:15.4px;line-height:15.4px;color:#222;transform:scaleX(1.0258);">-68,3</div>
<div class="t" style="right:10.70px;transform-origin:100% 0;top:780.26px;font-size:15.4px;line-height:15.4px;color:#222;transform:scaleX(1.0372);">-79,9</div>
<div class="t" style="left:60.2px;top:768.96px;font-size:15.4px;line-height:15.4px;color:#222;transform:scaleX(1.0130);">Surat Berharga diterbitkan BI yang dimiliki</div>
<div class="t" style="left:60.2px;top:789.46px;font-size:15.4px;line-height:15.4px;color:#222;transform:scaleX(1.0305);">oleh Sektor Swasta**</div>
<div class="rule" style="left:73px;top:956px;width:647px;height:2px"></div>
</div>
</body></html>
